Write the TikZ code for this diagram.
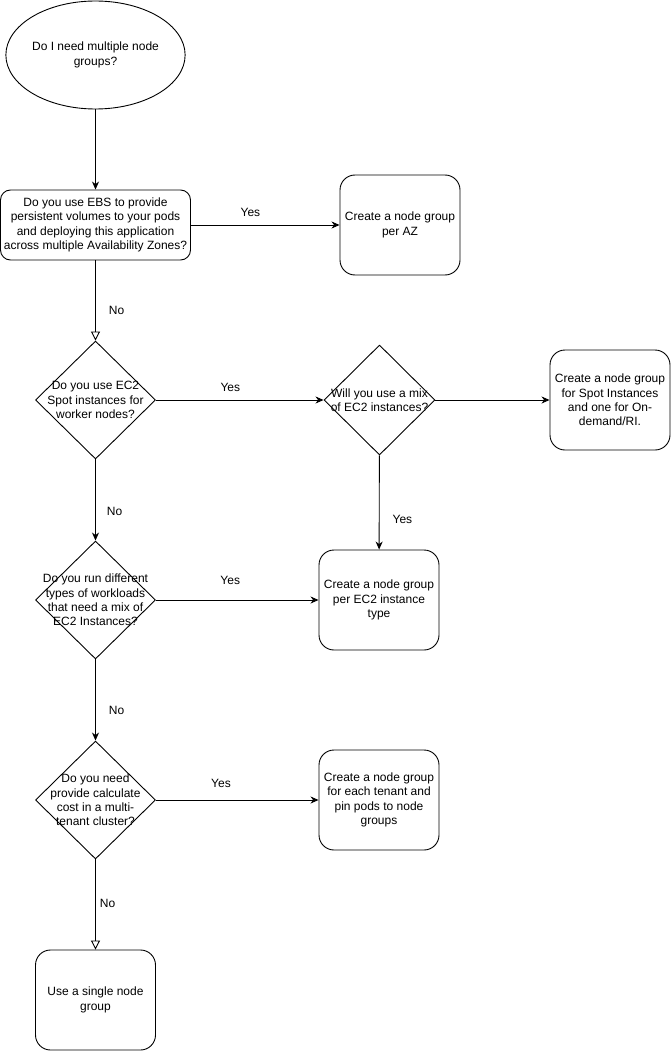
\documentclass[tikz,border=0pt]{standalone}
\usepackage{fontspec}
\setmainfont{Liberation Sans}
\usetikzlibrary{arrows.meta, shapes.geometric}

\begin{document}
\begin{tikzpicture}[x=1pt, y=-1pt, line join=round,
  every node/.style={font=\fontsize{12}{14.4}\selectfont},
  boite/.style={draw, line width=0.9pt, rounded corners=15pt, align=center,
    inner sep=0pt, minimum width=120pt, minimum height=100pt},
  question/.style={draw, line width=0.9pt, diamond, aspect=1, inner sep=0pt,
    minimum width=120pt, minimum height=118pt},
  dtexte/.style={align=center, inner sep=0pt},
  fleche/.style={line width=0.9pt, -{Stealth[length=8pt, width=7pt, inset=2.5pt]}},
  non/.style={line width=0.9pt, -{Triangle[open, length=9pt, width=9pt]}},
  etiq/.style={inner sep=0pt, anchor=base}]
  \useasboundingbox (0,0) rectangle (671,1051);
  \pgfmathsetmacro{\xg}{95.5}
  % Départ
  \node[draw, line width=0.9pt, ellipse, minimum width=144pt, minimum height=108pt,
    inner sep=0pt, align=center] (debut) at (\xg,55) {Do I need multiple node\\groups?};
  % Colonne de gauche : les questions
  \node[boite, rounded corners=10pt, minimum width=190pt, minimum height=70pt] (ebs) at (\xg,225)
    {Do you use EBS to provide\\persistent volumes to your pods\\and deploying this application\\across multiple Availability Zones?};
  \node[question, label={[dtexte]center:{Do you use EC2\\Spot instances for\\worker nodes?}}] (spot) at (\xg,400) {};
  \node[question, label={[dtexte]center:{Do you run different\\types of workloads\\that need a mix of\\EC2 Instances?}}] (charges) at (\xg,600) {};
  \node[question, label={[dtexte]center:{Do you need\\provide calculate\\cost in a multi-\\tenant cluster?}}] (tenants) at (\xg,800) {};
  \node[boite] (unique) at (\xg,1000) {Use a single node\\group};
  % Question intermédiaire
  \node[question, minimum width=111pt, minimum height=110pt,
    label={[dtexte]center:{Will you use a mix\\of EC2 instances?}}] (mix) at (379.5,400) {};
  % Réponses
  \node[boite] (parAZ) at (400,225) {Create a node group\\per AZ};
  \node[boite] (spotOD) at (610,400) {Create a node group\\for Spot Instances\\and one for On-\\demand/RI.};
  \node[boite] (parType) at (379,600) {Create a node group\\per EC2 instance\\type};
  \node[boite] (parTenant) at (379,800) {Create a node group\\for each tenant and\\pin pods to node\\groups};
  % Flèches
  \draw[fleche] (debut) -- (ebs);
  \draw[fleche] (ebs) -- node[etiq, pos=0.4, yshift=9pt] {Yes} (parAZ);
  \draw[non] (ebs) -- node[etiq, pos=0.68, anchor=base west, xshift=13pt] {No} (spot);
  \draw[fleche] (spot) -- node[etiq, pos=0.444, yshift=9pt] {Yes} (mix);
  \draw[fleche] (mix) -- (spotOD);
  \draw[fleche] (mix) -- node[etiq, pos=0.72, anchor=base west, xshift=13pt] {Yes} (parType);
  \draw[fleche] (spot) -- node[etiq, pos=0.69, anchor=base west, xshift=11pt] {No} (charges);
  \draw[fleche] (charges) -- node[etiq, pos=0.457, yshift=16pt] {Yes} (parType);
  \draw[fleche] (charges) -- node[etiq, pos=0.675, anchor=base west, xshift=13pt] {No} (tenants);
  \draw[fleche] (tenants) -- node[etiq, pos=0.4, yshift=13pt] {Yes} (parTenant);
  \draw[non] (tenants) -- node[etiq, pos=0.53, anchor=base west, xshift=4pt] {No} (unique);
\end{tikzpicture}
\end{document}
